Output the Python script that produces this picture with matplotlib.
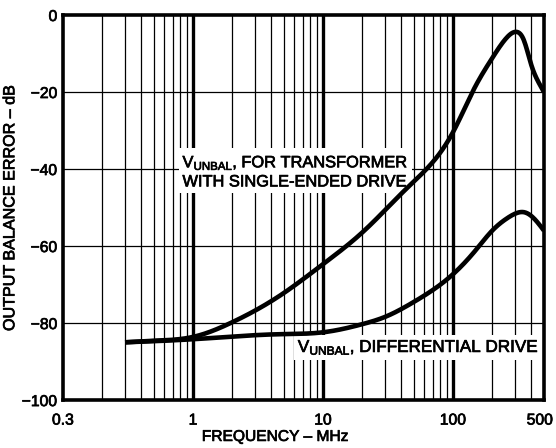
import matplotlib
matplotlib.use("Agg")
import matplotlib.pyplot as plt
import matplotlib.patheffects as pe
import matplotlib.transforms as mtrans
import numpy as np
from matplotlib.ticker import FixedLocator, NullLocator

plt.rcParams['font.family'] = ['Liberation Sans', 'DejaVu Sans']
plt.rcParams['mathtext.fontset'] = 'custom'
plt.rcParams['mathtext.rm'] = 'Liberation Sans'

# values (frequency in MHz, error in dB)
freq_se = [0.3, 0.5, 1, 2, 4.6, 10, 20, 45, 100, 146, 200, 260, 310, 350, 400, 460, 500]
err_se = [-85, -84.6, -83.6, -79.8, -73, -64.7, -56.5, -44.7, -30.4, -19, -11.2, -5.8, -4.4, -6.5, -13, -17.8, -20]

freq_diff = [0.3, 1, 4.6, 10, 20, 30, 50, 100, 150, 200, 260, 300, 350, 400, 450, 500]
err_diff = [-85, -84.2, -82.9, -82.4, -80.3, -78.4, -74.5, -67.3, -61, -56, -52.8, -51.6, -51.2, -52.2, -54, -56]

x_ticks = [0.1, 1, 10, 100, 500]
x_tick_labels = ["0.3", "1", "10", "100", "500"]
y_ticks = [0, -20, -40, -60, -80, -100]
y_tick_labels = ["0", "\u221220", "\u221240", "\u221260", "\u221280", "\u2212100"]


def spline(fx, fy, n=500):
    # natural cubic spline in log frequency
    x = np.log10(fx)
    y = np.asarray(fy, float)
    m = len(x)
    h = np.diff(x)
    A = np.zeros((m, m))
    b = np.zeros(m)
    A[0, 0] = A[-1, -1] = 1
    for i in range(1, m - 1):
        A[i, i - 1] = h[i - 1]
        A[i, i] = 2 * (h[i - 1] + h[i])
        A[i, i + 1] = h[i]
        b[i] = 3 * ((y[i + 1] - y[i]) / h[i] - (y[i] - y[i - 1]) / h[i - 1])
    c = np.linalg.solve(A, b)
    xs = np.linspace(x[0], x[-1], n)
    idx = np.clip(np.searchsorted(x, xs) - 1, 0, m - 2)
    dx = xs - x[idx]
    bb = (y[idx + 1] - y[idx]) / h[idx] - h[idx] * (2 * c[idx] + c[idx + 1]) / 3
    dd = (c[idx + 1] - c[idx]) / (3 * h[idx])
    ys = y[idx] + bb * dx + c[idx] * dx ** 2 + dd * dx ** 3
    return 10 ** xs, ys


thick = [pe.withStroke(linewidth=0.5, foreground='black')]

fig = plt.figure(figsize=(5.56, 4.48), dpi=100)
ax = fig.add_axes([0.1133, 0.107, 0.865, 0.8595])
ax.set_xscale('log')
ax.set_xlim(0.1, 500)
ax.set_ylim(-100, 0)

# vertical grid
minor = []
for d in [0.1, 1, 10]:
    for m in range(2, 10):
        minor.append(d * m)
minor += [200, 300, 400]
for v in minor:
    ax.axvline(v, color='black', lw=0.9, zorder=1)
for v in [1, 10, 100]:
    ax.axvline(v, color='black', lw=2.4, zorder=1)
for h in [-20, -40, -60, -80]:
    ax.axhline(h, color='black', lw=0.9, zorder=1)

x1, y1 = spline(freq_se, err_se)
x2, y2 = spline(freq_diff, err_diff)
ax.plot(x1, y1, color='black', lw=3.3, solid_capstyle='butt', zorder=5)
ax.plot(x2, y2, color='black', lw=3.3, solid_capstyle='butt', zorder=5)

box = dict(facecolor='white', edgecolor='none', pad=2.5)
ax.text(0.83, -40.6, r"$\mathrm{V_{UNBAL}}$, FOR TRANSFORMER" + "\nWITH SINGLE-ENDED DRIVE",
        fontsize=11.8, ha='left', va='center', linespacing=1.2, bbox=box, zorder=3,
        path_effects=thick)
ax.text(6.4, -86.3, r"$\mathrm{V_{UNBAL}}$, DIFFERENTIAL DRIVE",
        fontsize=12.3, ha='left', va='center', bbox=box, zorder=3, path_effects=thick)

ax.xaxis.set_major_locator(FixedLocator(x_ticks))
ax.set_xticklabels(x_tick_labels)
ax.xaxis.set_minor_locator(NullLocator())
ax.set_yticks(y_ticks)
ax.set_yticklabels(y_tick_labels)
ax.tick_params(length=0, labelsize=11.3, pad=4)
ax.tick_params(axis='x', pad=9)
for t in ax.get_xticklabels() + ax.get_yticklabels():
    t.set_path_effects(thick)
# the "500" label sits a little left of the right edge
last = ax.get_xticklabels()[-1]
last.set_transform(last.get_transform() + mtrans.ScaledTranslation(-4 / 100, 0, fig.dpi_scale_trans))

for s in ax.spines.values():
    s.set_linewidth(2.6)
    s.set_zorder(6)

ax.set_xlabel("FREQUENCY \u2013 MHz", fontsize=11.2, path_effects=thick)
ax.xaxis.set_label_coords(0.44, -0.075)
ax.set_ylabel("OUTPUT BALANCE ERROR \u2013 dB", fontsize=11.6, path_effects=thick)
ax.yaxis.set_label_coords(-0.095, 0.5)

fig.savefig("out.png", dpi=100)
